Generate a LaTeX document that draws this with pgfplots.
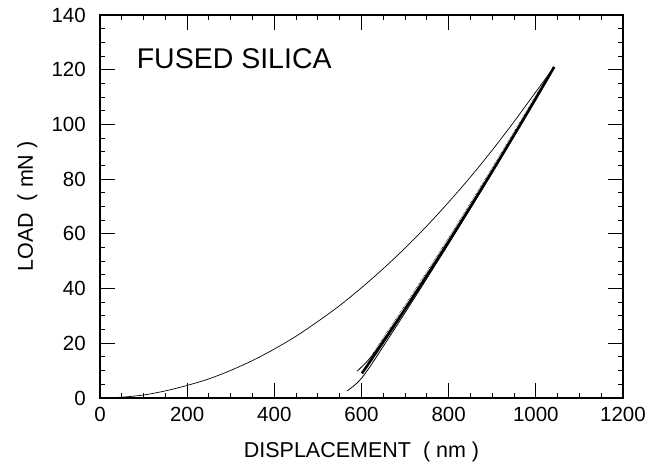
\documentclass[border=0pt]{standalone}
\usepackage{fontspec}
\setmainfont{Liberation Sans}
\usepackage{pgfplots}
\pgfplotsset{compat=1.18}

\begin{document}
\fontsize{21bp}{24bp}\selectfont
\begin{tikzpicture}
\begin{axis}[
  at={(0,0)}, anchor=south west,
  scale only axis, width=523bp, height=383bp,
  xmin=0, xmax=1200, ymin=0, ymax=140,
  xtick={0,200,...,1200}, ytick={0,20,...,140},
  minor x tick num=3, minor y tick num=3,
  tick align=inside,
  major tick length=15bp, minor tick length=5bp,
  axis line style={line width=1.3pt},
  every tick/.style={black, line width=1pt},
  /pgf/number format/assume math mode=true,
  /pgf/number format/1000 sep={},
  scaled ticks=false,
  ticklabel style={font=\fontsize{20.5bp}{24bp}\selectfont},
  label style={font=\fontsize{21.5bp}{24bp}\selectfont},
  xticklabel style={yshift=-2bp},
  yticklabel style={xshift=-7bp},
  xlabel={DISPLACEMENT\ \ ( nm )},
  ylabel={LOAD\ \ ( mN )},
  xlabel style={yshift=-6bp},
  clip=false,
]
% loading
\addplot[black, line width=0.7pt, smooth] table {
x y
0 0
50 0.3
100 1.1
150 2.6
200 4.6
250 7.0
300 10.1
350 13.7
400 17.9
450 22.6
500 28.0
550 33.8
600 40.3
650 47.3
700 54.8
750 62.9
800 71.6
850 80.8
900 90.6
950 101.0
1000 111.9
1042 121
};
% unloading, main band
\addplot[black, line width=2.6pt, smooth] table {
x y
601 9.0
620 13.44
650 20.52
700 32.50
750 44.74
800 57.21
850 69.93
900 82.88
950 96.08
1000 109.52
1042 121
};
% lower tail
\addplot[black, line width=0.8pt, smooth] table {
x y
567 2.6
585 4.8
601 7.4
620 11.6
650 18.9
700 31.2
750 43.7
800 56.4
850 69.3
900 82.4
950 95.8
1000 109.3
1042 121
};
% upper line
\addplot[black, line width=0.8pt, smooth] table {
x y
590 9.8
610 12.9
630 16.7
660 23.6
700 32.9
750 45.1
800 57.5
850 70.2
900 83.1
950 96.3
1000 109.7
1042 121
};
% dotted
\addplot[black, line width=0.6pt, densely dotted, smooth] table {
x y
625 16.0
650 22.0
700 34.0
750 46.2
800 58.6
850 71.3
900 84.2
950 97.3
1000 110.6
1030 118.4
};
\node[anchor=west, font=\fontsize{28.5bp}{32bp}\selectfont] at (axis cs:68,124) {FUSED SILICA};
\end{axis}
\pgfresetboundingbox
\path[use as bounding box] (-100bp,-68bp) rectangle (551bp,398bp);
\end{tikzpicture}
\end{document}
